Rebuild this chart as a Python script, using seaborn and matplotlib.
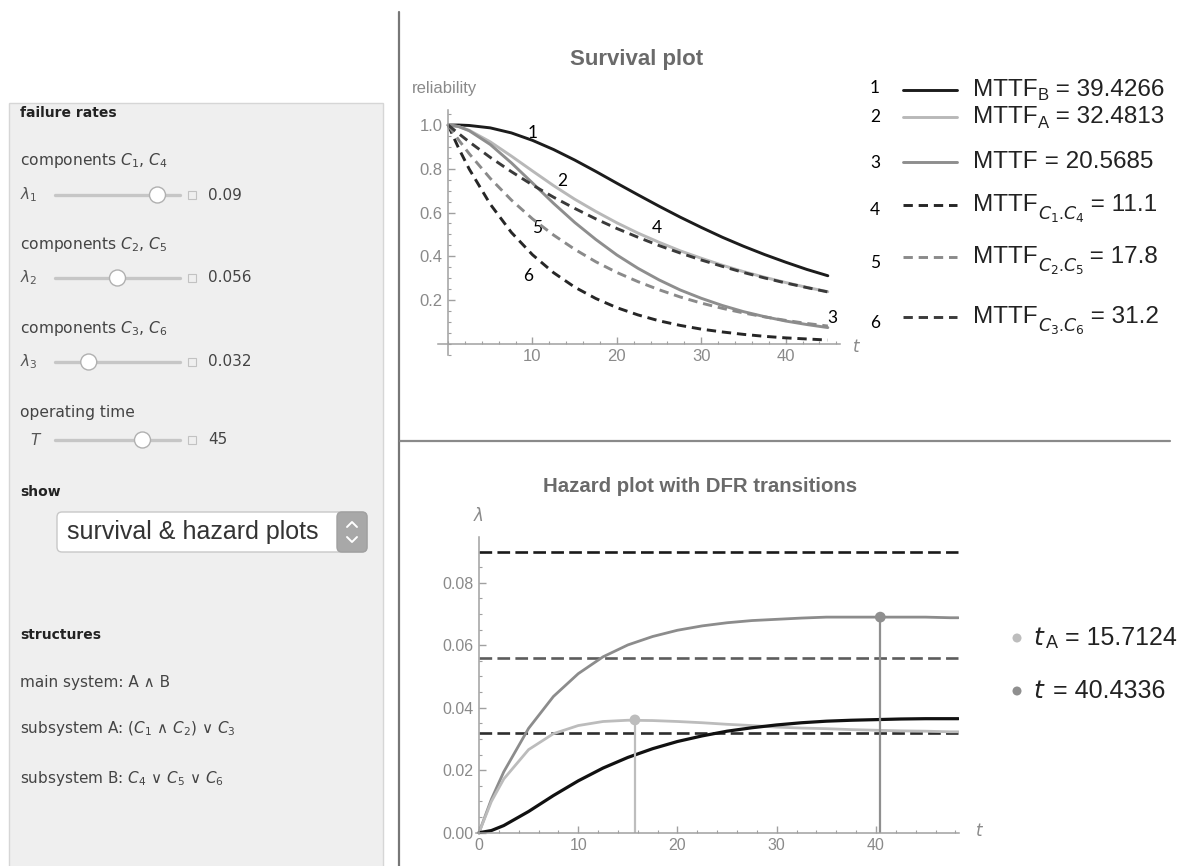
import matplotlib
matplotlib.use("Agg")
import matplotlib.pyplot as plt
from matplotlib.patches import Rectangle, FancyBboxPatch, Circle
from matplotlib.ticker import MultipleLocator
import seaborn as sns

# === SURVIVAL DATA ===
t_surv = [0, 1.25, 2.5, 5, 7.5, 10, 12.5, 15, 17.5, 20, 22.5, 25, 27.5, 30, 32.5, 35, 37.5, 40, 42.5, 45]
rel_B = [1.0, 1.0, 0.998, 0.987, 0.964, 0.930, 0.888, 0.840, 0.788, 0.734, 0.681, 0.629, 0.579, 0.532, 0.487, 0.446, 0.408, 0.373, 0.340, 0.311]
rel_A = [1.0, 0.993, 0.976, 0.923, 0.858, 0.790, 0.723, 0.661, 0.605, 0.553, 0.506, 0.464, 0.425, 0.391, 0.359, 0.330, 0.304, 0.280, 0.258, 0.238]
rel_sys = [1.0, 0.993, 0.974, 0.911, 0.827, 0.735, 0.642, 0.555, 0.477, 0.406, 0.345, 0.292, 0.246, 0.208, 0.175, 0.147, 0.124, 0.104, 0.088, 0.074]
rel_C14 = [1.0, 0.894, 0.799, 0.638, 0.509, 0.407, 0.325, 0.259, 0.207, 0.165, 0.132, 0.105, 0.084, 0.067, 0.054, 0.043, 0.034, 0.027, 0.022, 0.017]
rel_C25 = [1.0, 0.932, 0.869, 0.756, 0.657, 0.571, 0.497, 0.432, 0.375, 0.326, 0.284, 0.247, 0.214, 0.186, 0.162, 0.141, 0.123, 0.107, 0.093, 0.081]
rel_C36 = [1.0, 0.961, 0.923, 0.852, 0.787, 0.726, 0.670, 0.619, 0.571, 0.527, 0.487, 0.449, 0.415, 0.383, 0.354, 0.326, 0.301, 0.278, 0.257, 0.237]

# === HAZARD DATA ===
t_haz = [0, 1.25, 2.5, 5, 7.5, 10, 12.5, 15, 17.5, 20, 22.5, 25, 27.5, 30, 32.5, 35, 37.5, 40, 42.5, 45, 47.5, 48.3]
haz_B = [0, 0.0007, 0.0023, 0.0068, 0.0119, 0.0166, 0.0207, 0.0241, 0.0269, 0.0292, 0.0310, 0.0325, 0.0336, 0.0345, 0.0352, 0.0357, 0.0360, 0.0362, 0.0364, 0.0365, 0.0365, 0.0365]
haz_A = [0, 0.0100, 0.0172, 0.0266, 0.0317, 0.0343, 0.0356, 0.0360, 0.0359, 0.0356, 0.0352, 0.0347, 0.0343, 0.0338, 0.0335, 0.0333, 0.0330, 0.0328, 0.0326, 0.0325, 0.0323, 0.0323]
haz_sys = [0, 0.0107, 0.0195, 0.0334, 0.0436, 0.0509, 0.0563, 0.0601, 0.0628, 0.0648, 0.0662, 0.0672, 0.0679, 0.0683, 0.0687, 0.0690, 0.0690, 0.0690, 0.0690, 0.0690, 0.0688, 0.0688]
comp_rates = [0.09, 0.056, 0.032]
mark_t = [15.7124, 40.4336]
mark_h = [0.0361, 0.0690]

# === LABELS ===
mttf_subs = ["B", "A", "", r"$C_1$.$C_4$", r"$C_2$.$C_5$", r"$C_3$.$C_6$"]
mttf_vals = ["39.4266", "32.4813", "20.5685", "11.1", "17.8", "31.2"]
mark_names = [r"$t$", r"$t$"]
mark_subs = [r"A", ""]
mark_vals = ["15.7124", "40.4336"]
slider_titles = [r"components $C_1$, $C_4$", r"components $C_2$, $C_5$", r"components $C_3$, $C_6$", "operating time"]
slider_names = [r"$\lambda_1$", r"$\lambda_2$", r"$\lambda_3$", r"$T$"]
slider_values = ["0.09", "0.056", "0.032", "45"]
slider_frac = [0.82, 0.50, 0.27, 0.70]
structure_lines = ["main system: A ∧ B", r"subsystem A: ($C_1$ ∧ $C_2$) ∨ $C_3$", r"subsystem B: $C_4$ ∨ $C_5$ ∨ $C_6$"]

# styles: (color, linestyle)
surv_styles = [("#1c1c1c", "-"), ("#b8b8b8", "-"), ("#8e8e8e", "-"),
               ("#262626", (0, (3.2, 2))), ("#8a8a8a", (0, (3.2, 2))), ("#3a3a3a", (0, (3.2, 2)))]
rate_colors = ["#1a1a1a", "#5c5c5c", "#2e2e2e"]
mark_colors = ["#bdbdbd", "#8f8f8f"]

sns.set_theme(style="white")
plt.rcParams['font.family'] = ['Liberation Sans', 'DejaVu Sans']
PANEL_FONT = ['DejaVu Sans']
NUM_FONT = ['Lato', 'DejaVu Sans']
AX_GRAY = "#a0a0a0"
LBL_GRAY = "#8a8a8a"

fig = plt.figure(figsize=(11.77, 8.66), dpi=100)
renderer = fig.canvas.get_renderer()

# === BACKGROUND LAYER (pixel coordinates) ===
bg = fig.add_axes([0, 0, 1, 1])
bg.set_xlim(0, 1177)
bg.set_ylim(866, 0)
bg.axis("off")

# dividers
bg.plot([399, 399], [12, 866], color="#777777", lw=1.6)
bg.plot([400, 1170], [441, 441], color="#8a8a8a", lw=1.6)

# control panel
bg.add_patch(Rectangle((9, 103), 374, 770, fc="#efefef", ec="#d6d6d6", lw=1))
bg.text(20, 113, "failure rates", fontsize=10, fontweight="bold", color="#222222", va="center", family=PANEL_FONT)
title_y = [160, 245, 328, 412]
slider_y = [195, 278, 362, 440]
for i in range(4):
    bg.text(20, title_y[i], slider_titles[i], fontsize=11.2, color="#444444", va="center", family=PANEL_FONT)
    name_x = 30 if i == 3 else 20
    bg.text(name_x, slider_y[i], slider_names[i], fontsize=11, color="#555555", va="center", family=PANEL_FONT)
    y = slider_y[i]
    bg.plot([55, 180], [y, y], color="#c6c6c6", lw=2.4, solid_capstyle="round")
    bg.add_patch(Circle((55 + slider_frac[i] * 125, y), 8, fc="white", ec="#b0b0b0", lw=1.0, zorder=3))
    bg.add_patch(Rectangle((188, y - 4), 8, 8, fc="none", ec="#c2c2c2", lw=0.8))
    bg.text(208, y, slider_values[i], fontsize=11, color="#444444", va="center", family=PANEL_FONT)

bg.text(20, 492, "show", fontsize=10, fontweight="bold", color="#222222", va="center", family=PANEL_FONT)
bg.add_patch(FancyBboxPatch((57, 512), 310, 40, boxstyle="round,pad=0,rounding_size=5",
                            fc="white", ec="#c8c8c8", lw=1))
bg.add_patch(FancyBboxPatch((337, 512), 30, 40, boxstyle="round,pad=0,rounding_size=5",
                            fc="#a8a8a8", ec="#a0a0a0", lw=1))
bg.plot([347, 352, 357], [527, 522, 527], color="white", lw=1.4)
bg.plot([347, 352, 357], [537, 542, 537], color="white", lw=1.4)
bg.text(67, 532, "survival & hazard plots", fontsize=18, color="#333333", va="center")

bg.text(20, 635, "structures", fontsize=10, fontweight="bold", color="#222222", va="center", family=PANEL_FONT)
for y, s in zip([682, 728, 778], structure_lines):
    bg.text(20, y, s, fontsize=11, color="#444444", va="center", family=PANEL_FONT)

# === SURVIVAL PLOT ===
ax1 = fig.add_axes([0.3721, 0.5904, 0.3420, 0.2829])
ax1.patch.set_alpha(0)
surv_series = [rel_B, rel_A, rel_sys, rel_C14, rel_C25, rel_C36]
for vals, (col, ls) in zip(surv_series, surv_styles):
    sns.lineplot(x=t_surv, y=vals, ax=ax1, color=col, linestyle=ls, lw=2.1)
ax1.set_xlim(-1.2, 46.5)
ax1.set_ylim(-0.05, 1.07)
ax1.set_xticks([10, 20, 30, 40])
ax1.set_yticks([0.2, 0.4, 0.6, 0.8, 1.0])
ax1.set_yticklabels(["0.2", "0.4", "0.6", "0.8", "1.0"])

# === HAZARD PLOT ===
ax2 = fig.add_axes([0.4044, 0.0366, 0.4107, 0.3428])
ax2.patch.set_alpha(0)
for lam, col in zip(comp_rates, rate_colors):
    ax2.hlines(lam, 0, t_haz[-1], colors=col, linestyles=[(0, (4.8, 2))], lw=1.9)
sns.lineplot(x=t_haz, y=haz_sys, ax=ax2, color="#8c8c8c", lw=2.0)
sns.lineplot(x=t_haz, y=haz_A, ax=ax2, color="#bcbcbc", lw=2.0)
sns.lineplot(x=t_haz, y=haz_B, ax=ax2, color="#111111", lw=2.3)
ax2.vlines(mark_t, 0, mark_h, colors=mark_colors, lw=1.6)
for tx, hy, col in zip(mark_t, mark_h, mark_colors):
    sns.scatterplot(x=[tx], y=[hy], ax=ax2, color=col, s=60, edgecolor="none", zorder=5)
ax2.set_xlim(-0.3, 48.4)
ax2.set_ylim(-0.0005, 0.0945)
ax2.set_xticks([0, 10, 20, 30, 40])
ax2.set_yticks([0, 0.02, 0.04, 0.06, 0.08])
ax2.set_yticklabels(["0.00", "0.02", "0.04", "0.06", "0.08"])

for ax, xmin, ymin, lsize in [(ax1, 2, 0.05, 12), (ax2, 2, 0.005, 11.5)]:
    for side in ["top", "right"]:
        ax.spines[side].set_visible(False)
    for side in ["left", "bottom"]:
        ax.spines[side].set_position(("data", 0))
        ax.spines[side].set_color(AX_GRAY)
        ax.spines[side].set_linewidth(1.1)
    ax.xaxis.set_minor_locator(MultipleLocator(xmin))
    ax.yaxis.set_minor_locator(MultipleLocator(ymin))
    ax.tick_params(which="major", direction="in", length=5, width=1, color=AX_GRAY,
                   labelcolor=LBL_GRAY, labelsize=lsize, left=True, bottom=True, pad=4)
    ax.tick_params(which="minor", direction="in", length=2.5, width=0.8, color=AX_GRAY, left=True, bottom=True)
    ax.set_xlabel("")
    ax.set_ylabel("")
    ax.grid(False)

# titles and axis names
bg.text(637, 60, "Survival plot", fontsize=16, fontweight="bold", color="#6a6a6a", ha="center", va="center")
bg.text(412, 88, "reliability", fontsize=12, color=LBL_GRAY, ha="left", va="center")
bg.text(852, 346, r"$t$", fontsize=12, color=LBL_GRAY, ha="left", va="center")
bg.text(700, 487, "Hazard plot with DFR transitions", fontsize=14.7, fontweight="bold", color="#6a6a6a", ha="center", va="center")
bg.text(478, 515, r"$\lambda$", fontsize=12, color=LBL_GRAY, ha="center", va="center")
bg.text(975, 831, r"$t$", fontsize=12, color=LBL_GRAY, ha="left", va="center")

# number tags on the survival curves
for s, x, y in [("1", 533, 133), ("2", 562, 181), ("5", 537, 228), ("4", 657, 228), ("6", 528, 276), ("3", 832, 318)]:
    bg.text(x, y, s, fontsize=12.5, color="black", ha="center", va="center", family=NUM_FONT)


def text_run(x, y, parts):
    # lay text pieces side by side, measuring each one
    for s, size, dy in parts:
        if not s:
            continue
        t = bg.text(x, y + dy, s, fontsize=size, color="#222222", ha="left", va="center")
        x += t.get_window_extent(renderer).width


# survival legend
num_y = [88, 117, 163, 210, 263, 323]
row_y = [90, 117, 162, 205, 257, 317]
for i, ((col, ls), sub, val) in enumerate(zip(surv_styles, mttf_subs, mttf_vals)):
    y = row_y[i]
    bg.text(875, num_y[i], str(i + 1), fontsize=12.5, color="black", ha="center", va="center", family=NUM_FONT)
    bg.plot([903, 957], [y, y], color=col, linestyle=ls, lw=2.1)
    sub_size, sub_dy = (12, 6) if i < 3 else (12.5, 9)
    text_run(973, y, [("MTTF", 17.5, 0), (sub, sub_size, sub_dy), (" = " + val, 17.5, 0)])

# hazard legend
for y, col, name, sub, val in zip([638, 691], mark_colors, mark_names, mark_subs, mark_vals):
    bg.add_patch(Circle((1017, y), 4.5, fc=col, ec="none"))
    text_run(1033, y, [(name, 18, 0), (sub, 13, 6), (" = " + val, 18, 0)])

fig.savefig("out.png", dpi=100)
